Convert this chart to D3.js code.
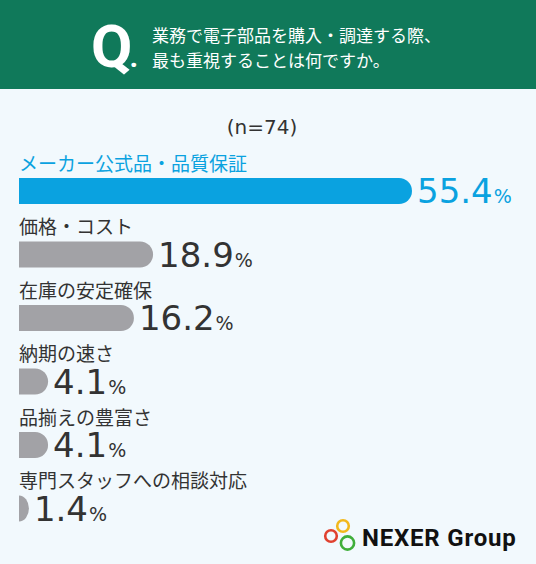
<!DOCTYPE html>
<html>
<head>
<meta charset="utf-8">
<script src="https://cdn.jsdelivr.net/npm/d3@7"></script>
<style>
  html, body { margin: 0; padding: 0; background: #f2f9fd; }
  svg { display: block; }
</style>
</head>
<body>
<svg id="chart"></svg>
<script>
(function () {
    const categories = [
        'メーカー公式品・品質保証',
        '価格・コスト',
        '在庫の安定確保',
        '納期の速さ',
        '品揃えの豊富さ',
        '専門スタッフへの相談対応'
    ];
    const values = [55.4, 18.9, 16.2, 4.1, 4.1, 1.4];
    const questionLines = ['業務で電子部品を購入・調達する際、', '最も重視することは何ですか。'];
    const sampleLabel = '(n=74)';

    const width = 536;
    const height = 564;
    const jp = '"Noto Sans CJK JP", "Noto Sans", sans-serif';
    const num = '"DejaVu Sans", Roboto, sans-serif';
    const blue = '#0aa2e0';
    const grey = '#a2a2a6';
    const dark = '#333333';

    const svg = d3.select('#chart')
        .attr('width', width)
        .attr('height', height);

    svg.append('rect')
        .attr('width', width)
        .attr('height', height)
        .attr('fill', '#f2f9fd');

    // header band
    svg.append('rect')
        .attr('width', width)
        .attr('height', 89)
        .attr('fill', '#10795a');

    const q = svg.append('text')
        .attr('x', 91)
        .attr('y', 67)
        .attr('fill', '#fff')
        .attr('font-family', 'Roboto, sans-serif')
        .attr('font-weight', 700);
    q.append('tspan').attr('font-size', 60).text('Q');
    q.append('tspan').attr('font-size', 30).attr('dx', -3).text('.');

    svg.selectAll('.qline')
        .data(questionLines)
        .join('text')
        .attr('class', 'qline')
        .attr('x', 152)
        .attr('y', (d, i) => 42 + i * 25)
        .attr('fill', '#fff')
        .attr('font-family', jp)
        .attr('font-weight', 400)
        .attr('font-size', 17)
        .text(d => d);

    svg.append('text')
        .attr('x', 262)
        .attr('y', 134)
        .attr('text-anchor', 'middle')
        .attr('fill', dark)
        .attr('font-family', num)
        .attr('font-size', 20)
        .text(sampleLabel);

    const x0 = 19;
    const xScale = d3.scaleLinear()
        .domain([0, values[0]])
        .range([0, 393]);

    const yScale = d3.scaleBand()
        .domain(categories)
        .range([178, 521.5])
        .paddingInner(0.59)
        .paddingOuter(0);

    const h = yScale.bandwidth();

    function barPath(w, y) {
        const r = h / 2;
        if (w >= r) {
            return `M${x0},${y}H${x0 + w - r}A${r},${r} 0 0 1 ${x0 + w - r},${y + h}H${x0}Z`;
        }
        return `M${x0},${y}A${w},${r} 0 0 1 ${x0},${y + h}Z`;
    }

    const rows = svg.selectAll('.row')
        .data(categories.map((c, i) => ({ c, v: values[i], i })))
        .join('g')
        .attr('class', 'row');

    rows.append('text')
        .attr('x', x0)
        .attr('y', d => yScale(d.c) - 7)
        .attr('fill', d => d.i === 0 ? blue : dark)
        .attr('font-family', jp)
        .attr('font-size', 19)
        .text(d => d.c);

    rows.append('path')
        .attr('d', d => barPath(xScale(d.v), yScale(d.c)))
        .attr('fill', d => d.i === 0 ? blue : grey);

    const vt = rows.append('text')
        .attr('x', d => x0 + xScale(d.v) + 5)
        .attr('y', d => yScale(d.c) + h - 1)
        .attr('fill', d => d.i === 0 ? blue : dark)
        .attr('font-family', num);
    vt.append('tspan')
        .attr('font-size', 34)
        .text(d => d.v.toFixed(1));
    vt.append('tspan')
        .attr('font-size', 19)
        .attr('dx', 1)
        .text('%');

    // logo
    const logo = svg.append('g').attr('fill', 'none').attr('stroke-width', 2.6);
    logo.append('circle').attr('cx', 343).attr('cy', 526).attr('r', 5.8).attr('stroke', '#f2b81c');
    logo.append('circle').attr('cx', 331).attr('cy', 536).attr('r', 5.8).attr('stroke', '#e0412f');
    logo.append('circle').attr('cx', 347.5).attr('cy', 543).attr('r', 6.6).attr('stroke', '#3fae3a');

    svg.append('text')
        .attr('x', 362)
        .attr('y', 546)
        .attr('fill', '#111')
        .attr('font-family', 'Roboto, sans-serif')
        .attr('font-weight', 700)
        .attr('font-size', 24)
        .attr('letter-spacing', 0.8)
        .text('NEXER Group');
})();
</script>
</body>
</html>
